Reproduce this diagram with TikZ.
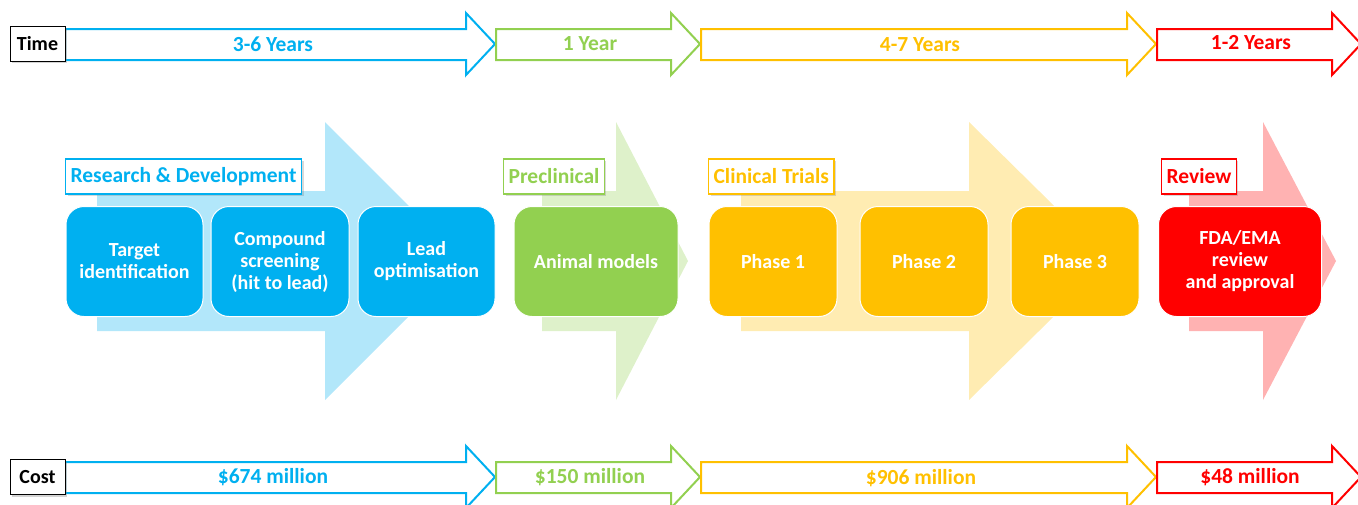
\documentclass[tikz,border=0pt]{standalone}
\usepackage{fontspec}
\setmainfont{Carlito}
\usetikzlibrary{shadows}
\definecolor{rdblue}{HTML}{00B0F0}
\definecolor{pcgreen}{HTML}{92D050}
\definecolor{ctyellow}{HTML}{FFC000}
\definecolor{rvred}{HTML}{FF0000}
\begin{document}
\begin{tikzpicture}[x=1pt, y=-1pt,
    txt/.style={font=\bfseries\fontsize{20}{22}\selectfont},
    arrowtxt/.style={font=\bfseries\fontsize{21.5}{24}\selectfont},
    outarrow/.style={line width=2pt, fill=white, line join=miter},
    tagbox/.style={txt, draw=black, fill=white, line width=1pt, minimum width=55pt, minimum height=35pt, inner sep=0pt, drop shadow={shadow xshift=2pt, shadow yshift=-2pt, opacity=0.35}},
    stepbox/.style={txt, text=white, draw=white, line width=1pt, rounded corners=18pt, minimum height=110pt, inner sep=2pt, align=center},
    phaselabel/.style={font=\bfseries\fontsize{21.5}{24}\selectfont, fill=white, line width=1.2pt, minimum height=35pt, inner xsep=5pt, inner ysep=0pt, anchor=west, drop shadow={shadow xshift=2pt, shadow yshift=-2pt, opacity=0.3}}]
\useasboundingbox (0,0) rectangle (1358,504);
\draw[outarrow, draw=rdblue] (65,29) -- (466,29) -- (466,13) -- (495,44) -- (466,75) -- (466,60) -- (65,60) -- cycle;
\draw[outarrow, draw=pcgreen] (496,29) -- (671,29) -- (671,13) -- (700,44) -- (671,75) -- (671,60) -- (496,60) -- cycle;
\draw[outarrow, draw=ctyellow] (701,29) -- (1127,29) -- (1127,13) -- (1156,44) -- (1127,75) -- (1127,60) -- (701,60) -- cycle;
\draw[outarrow, draw=rvred] (1157,29) -- (1332,29) -- (1332,13) -- (1361,44) -- (1332,75) -- (1332,60) -- (1157,60) -- cycle;
\node[tagbox] (time) at (37.5,43.5) {Time};
\node[arrowtxt, text=rdblue] (rdtime) at (273,44) {3-6 Years};
\node[arrowtxt, text=pcgreen] (pctime) at (590,44) {1 Year};
\node[arrowtxt, text=ctyellow] (cttime) at (920,45) {4-7 Years};
\node[arrowtxt, text=rvred] (rvtime) at (1251,43) {1-2 Years};
\fill[rdblue!30] (97,191) -- (325,191) -- (325,122) -- (464,261) -- (325,400) -- (325,331) -- (97,331) -- cycle;
\fill[pcgreen!30] (542,191) -- (616,191) -- (616,122) -- (688,261) -- (616,400) -- (616,331) -- (542,331) -- cycle;
\fill[ctyellow!30] (741,191) -- (969,191) -- (969,122) -- (1110,261) -- (969,400) -- (969,331) -- (741,331) -- cycle;
\fill[rvred!30] (1189,191) -- (1263,191) -- (1263,122) -- (1336,261) -- (1263,400) -- (1263,331) -- (1189,331) -- cycle;
\node[stepbox, fill=rdblue, minimum width=137pt] (target) at (134.5,261.5) {Target\\identification};
\node[stepbox, fill=rdblue, minimum width=138pt] (compound) at (280,261.5) {Compound\\screening\\(hit to lead)};
\node[stepbox, fill=rdblue, minimum width=137pt] (lead) at (426.5,261.5) {Lead\\optimisation};
\node[stepbox, fill=pcgreen, minimum width=164pt] (animal) at (596,261.5) {Animal models};
\node[stepbox, fill=ctyellow, minimum width=128pt] (phase1) at (773,261.5) {Phase 1};
\node[stepbox, fill=ctyellow, minimum width=128pt] (phase2) at (924,261.5) {Phase 2};
\node[stepbox, fill=ctyellow, minimum width=128pt] (phase3) at (1075,261.5) {Phase 3};
\node[stepbox, fill=rvred, minimum width=163pt] (review) at (1240,261.5) {FDA/EMA\\review\\and approval};
\node[phaselabel, draw=rdblue, text=rdblue] (rdlabel) at (65,176.5) {Research \& Development};
\node[phaselabel, draw=pcgreen, text=pcgreen] (pclabel) at (503,176.5) {Preclinical};
\node[phaselabel, draw=ctyellow, text=ctyellow] (ctlabel) at (708,176.5) {Clinical Trials};
\node[phaselabel, draw=rvred, text=rvred] (rvlabel) at (1161,176.5) {Review};
\draw[outarrow, draw=rdblue] (65,462) -- (466,462) -- (466,446) -- (495,477) -- (466,508) -- (466,493) -- (65,493) -- cycle;
\draw[outarrow, draw=pcgreen] (496,462) -- (671,462) -- (671,446) -- (700,477) -- (671,508) -- (671,493) -- (496,493) -- cycle;
\draw[outarrow, draw=ctyellow] (701,462) -- (1127,462) -- (1127,446) -- (1156,477) -- (1127,508) -- (1127,493) -- (701,493) -- cycle;
\draw[outarrow, draw=rvred] (1157,462) -- (1332,462) -- (1332,446) -- (1361,477) -- (1332,508) -- (1332,493) -- (1157,493) -- cycle;
\node[tagbox] (cost) at (37.5,477) {Cost};
\node[arrowtxt, text=rdblue] (rdcost) at (273,477) {\$674 million};
\node[arrowtxt, text=pcgreen] (pccost) at (590,477) {\$150 million};
\node[arrowtxt, text=ctyellow] (ctcost) at (921,478) {\$906 million};
\node[arrowtxt, text=rvred] (rvcost) at (1250,477) {\$48 million};
\end{tikzpicture}
\end{document}
